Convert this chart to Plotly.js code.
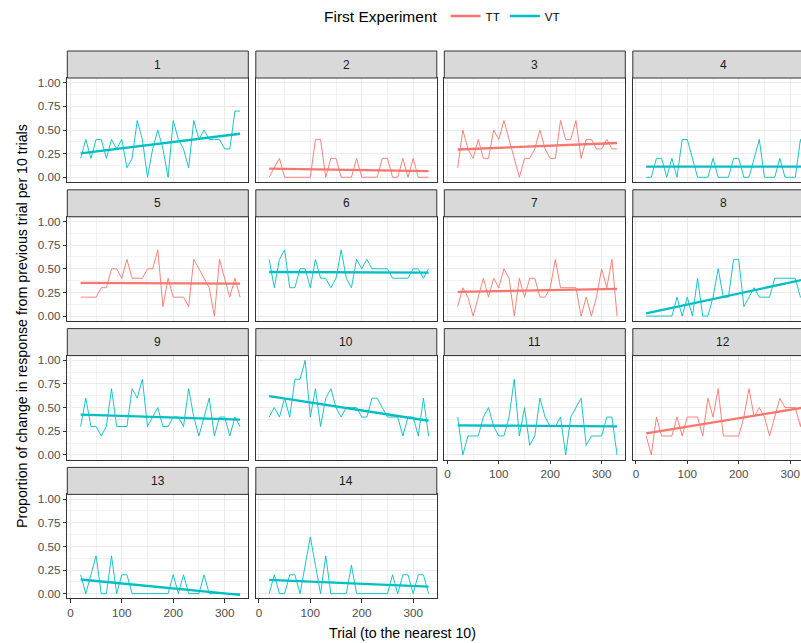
<!DOCTYPE html>
<html><head><meta charset="utf-8">
<script src="https://cdn.plot.ly/plotly-3.0.1.min.js"></script>
<style>html,body{margin:0;padding:0;background:#fff}#chart{width:801px;height:643px}</style>
</head><body><div id="chart"></div>
<script>
// ---------------- data ----------------
const trials = [20,30,40,50,60,70,80,90,100,110,120,130,140,150,160,170,180,190,200,210,220,230,240,250,260,270,280,290,300,310,320,330];
const panelLabels = ['1','2','3','4','5','6','7','8','9','10','11','12','13','14'];
const firstExperiment = ['VT','TT','TT','VT','TT','VT','TT','VT','VT','VT','VT','TT','VT','VT'];
const legendLabels = ['TT','VT'];

const p1  = [0.2,0.4,0.2,0.4,0.4,0.2,0.4,0.3,0.4,0.1,0.2,0.6,0.4,0,0.3,0.5,0.3,0,0.6,0.4,0.3,0.1,0.6,0.4,0.5,0.4,0.4,0.4,0.3,0.3,0.7,0.7];
const p2  = [0,0.1,0.2,0,0,0,0,0,0,0.4,0.4,0,0.2,0.2,0,0,0,0.2,0,0,0,0,0.2,0.2,0,0,0.2,0,0.2,0,0,0];
const p3  = [0.1,0.5,0.3,0.2,0.4,0.2,0.2,0.5,0.4,0.6,0.4,0.2,0,0.2,0.2,0.3,0.5,0.3,0.2,0.2,0.6,0.4,0.4,0.6,0.2,0.4,0.4,0.3,0.3,0.4,0.3,0.3];
const p4  = [0,0,0.2,0.2,0,0.2,0,0.4,0.4,0.2,0,0,0,0.2,0,0,0,0.2,0.2,0,0,0.2,0.4,0,0,0,0.2,0,0,0,0.4,0.2];
const p5  = [0.2,0.2,0.2,0.2,0.3,0.3,0.5,0.5,0.4,0.6,0.4,0.4,0.4,0.5,0.5,0.7,0.1,0.4,0.2,0.2,0.2,0.1,0.6,0.5,0.4,0.3,0,0.6,0.4,0.2,0.4,0.2];
const p6  = [0.6,0.3,0.6,0.7,0.3,0.3,0.5,0.5,0.3,0.6,0.4,0.4,0.3,0.4,0.7,0.4,0.3,0.6,0.5,0.6,0.5,0.5,0.5,0.5,0.4,0.4,0.4,0.4,0.5,0.5,0.4,0.5];
const p7  = [0.1,0.3,0.2,0,0.2,0.4,0.2,0.4,0.3,0.5,0.4,0,0.4,0.2,0.4,0.4,0.2,0.2,0.3,0.6,0.3,0.3,0.3,0.3,0,0.2,0,0.2,0.5,0.3,0.6,0];
const p8  = [0,0,0,0,0,0,0.2,0,0.2,0,0.4,0,0,0.2,0.5,0.2,0.2,0.6,0.6,0.1,0.2,0.3,0.2,0.2,0.2,0.4,0.4,0.4,0.4,0.4,0.2,0.2];
const p9  = [0.3,0.6,0.3,0.3,0.2,0.3,0.7,0.3,0.3,0.3,0.7,0.6,0.8,0.3,0.4,0.5,0.3,0.3,0.4,0.4,0.3,0.7,0.4,0.2,0.4,0.6,0.2,0.4,0.4,0.2,0.4,0.3];
const p10 = [0.4,0.5,0.4,0.6,0.4,0.8,0.8,1.0,0.4,0.7,0.3,0.6,0.7,0.5,0.4,0.5,0.5,0.5,0.4,0.4,0.6,0.6,0.5,0.4,0.4,0.4,0.2,0.4,0.4,0.2,0.6,0.2];
const p11 = [0.4,0,0.2,0.2,0.2,0.4,0.5,0.3,0.2,0.2,0.4,0.8,0.2,0.5,0.1,0.2,0.6,0.4,0.3,0.3,0.4,0,0.4,0.5,0.6,0.1,0.2,0.2,0.2,0.4,0.4,0];
const p12 = [0.2,0,0.4,0.2,0.2,0.2,0.4,0.2,0.4,0.4,0.4,0.2,0.6,0.4,0.7,0.2,0.2,0.2,0.2,0.4,0.7,0.4,0.5,0.4,0.2,0.4,0.6,0.5,0.5,0.5,0.3,0.6];
const p13 = [0.2,0,0.2,0.4,0,0,0.4,0,0.2,0.2,0,0,0,0,0,0,0,0,0.2,0,0.2,0,0,0,0.2,0,0,0,0,0,0,0];
const p14 = [0,0.2,0,0,0.2,0.2,0,0.3,0.6,0.3,0,0.4,0,0,0,0,0.3,0,0,0,0,0,0,0,0.2,0,0.2,0.2,0,0.2,0.2,0];
const series = [p1,p2,p3,p4,p5,p6,p7,p8,p9,p10,p11,p12,p13,p14];

// ---------------- layout helpers ----------------
const W = 801, H = 643;
const FONT = 'Liberation Sans, Arial, sans-serif';
const colors = {TT: '#F8766D', VT: '#00BFC4'};
const colLeft = [67.3, 255.8, 444.3, 632.8];
const panelW = 181;
const rowTop = [51, 189.8, 328.6, 467.4];
const stripH = 27, plotH = 104;
const fullRange = [-6, 346];

function olsLine(xs, ys) {
  const n = xs.length;
  let mx = 0, my = 0;
  for (let i = 0; i < n; i++) { mx += xs[i]; my += ys[i]; }
  mx /= n; my /= n;
  let sxy = 0, sxx = 0;
  for (let i = 0; i < n; i++) { sxy += (xs[i]-mx)*(ys[i]-my); sxx += (xs[i]-mx)*(xs[i]-mx); }
  const b = sxy / sxx, a = my - b*mx;
  return {x: [xs[0], xs[n-1]], y: [a + b*xs[0], a + b*xs[n-1]]};
}

const traces = [];
const layout = {
  width: W, height: H,
  margin: {l: 0, r: 0, t: 0, b: 0},
  paper_bgcolor: '#ffffff', plot_bgcolor: '#ffffff',
  font: {family: FONT, color: '#4D4D4D', size: 11.7},
  showlegend: true,
  legend: {
    orientation: 'h', x: 322/W, xanchor: 'left', y: 1 - 17/H, yanchor: 'middle',
    title: {text: 'First Experiment', side: 'left', font: {size: 15.5, color: '#000000', family: FONT}},
    font: {size: 11.7, color: '#000000', family: FONT},
    itemwidth: 30, bgcolor: 'rgba(0,0,0,0)', traceorder: 'normal'
  },
  shapes: [], annotations: []
};
const legendShown = {TT: false, VT: false};

for (let k = 0; k < series.length; k++) {
  const r = Math.floor(k / 4), c = k % 4;
  const sfx = k === 0 ? '' : String(k + 1);
  const grp = firstExperiment[k];
  const col = colors[grp];
  const left = colLeft[c], right = left + panelW;
  const yTop = rowTop[r] + stripH, yBot = yTop + plotH;
  const clipped = right > W;
  const xr = clipped ? [fullRange[0], fullRange[0] + (fullRange[1]-fullRange[0]) * (W - left) / panelW] : fullRange;
  const showX = k >= 10;
  const showY = c === 0;

  layout['xaxis' + sfx] = {
    domain: [left / W, Math.min(1, right / W)], anchor: 'y' + sfx,
    range: xr, tick0: 0, dtick: 100, showgrid: true, gridcolor: '#EBEBEB', gridwidth: 1,
    minor: {dtick: 50, tick0: 0, showgrid: true, gridcolor: '#F2F2F2', gridwidth: 1, ticks: ''},
    zeroline: false, showline: true, mirror: true, linecolor: '#333333', linewidth: 1,
    ticks: showX ? 'outside' : '', ticklen: 3.5, tickcolor: '#333333', tickwidth: 1,
    showticklabels: showX, tickfont: {size: 11.7, color: '#4D4D4D', family: FONT},
    fixedrange: true
  };
  layout['yaxis' + sfx] = {
    domain: [1 - yBot / H, 1 - yTop / H], anchor: 'x' + sfx,
    range: [-0.05, 1.05], tick0: 0, dtick: 0.25, tickformat: '.2f',
    showgrid: true, gridcolor: '#EBEBEB', gridwidth: 1,
    minor: {dtick: 0.125, tick0: 0, showgrid: true, gridcolor: '#F2F2F2', gridwidth: 1, ticks: ''},
    zeroline: false, showline: true, mirror: !clipped, linecolor: '#333333', linewidth: 1,
    ticks: showY ? 'outside' : '', ticklen: 3.5, tickcolor: '#333333', tickwidth: 1,
    showticklabels: showY, tickfont: {size: 11.7, color: '#4D4D4D', family: FONT},
    fixedrange: true
  };

  // raw series
  traces.push({
    type: 'scatter', mode: 'lines', x: trials, y: series[k],
    xaxis: 'x' + sfx, yaxis: 'y' + sfx,
    line: {color: col, width: 1}, opacity: 0.9,
    name: grp, legendgroup: grp, showlegend: false, hoverinfo: 'skip'
  });
  // linear fit
  const f = olsLine(trials, series[k]);
  traces.push({
    type: 'scatter', mode: 'lines', x: f.x, y: f.y,
    xaxis: 'x' + sfx, yaxis: 'y' + sfx,
    line: {color: col, width: 2.3},
    name: grp, legendgroup: grp, legendrank: legendLabels.indexOf(grp) + 1,
    showlegend: !legendShown[grp], hoverinfo: 'skip'
  });
  legendShown[grp] = true;

  // strip
  layout.shapes.push({
    type: 'rect', xref: 'paper', yref: 'paper',
    x0: left / W, x1: right / W, y0: 1 - (rowTop[r] + stripH) / H, y1: 1 - rowTop[r] / H,
    fillcolor: '#D9D9D9', line: {color: '#333333', width: 1}, layer: 'above'
  });
  layout.annotations.push({
    xref: 'paper', yref: 'paper', x: (left + panelW / 2) / W, y: 1 - (rowTop[r] + stripH / 2) / H,
    text: panelLabels[k], showarrow: false, xanchor: 'center', yanchor: 'middle',
    font: {size: 12, color: '#1A1A1A', family: FONT}
  });
}

// axis titles
layout.annotations.push({
  xref: 'paper', yref: 'paper', x: 402 / W, y: 1 - 633 / H,
  text: 'Trial (to the nearest 10)', showarrow: false, xanchor: 'center', yanchor: 'middle',
  font: {size: 14.2, color: '#000000', family: FONT}
});
layout.annotations.push({
  xref: 'paper', yref: 'paper', x: 22 / W, y: 1 - 326 / H,
  text: 'Proportion of change in response from previous trial per 10 trials', showarrow: false,
  textangle: -90, xanchor: 'center', yanchor: 'middle',
  font: {size: 14.2, color: '#000000', family: FONT}
});

Plotly.newPlot('chart', traces, layout, {displayModeBar: false, staticPlot: true});
</script>
</body></html>
